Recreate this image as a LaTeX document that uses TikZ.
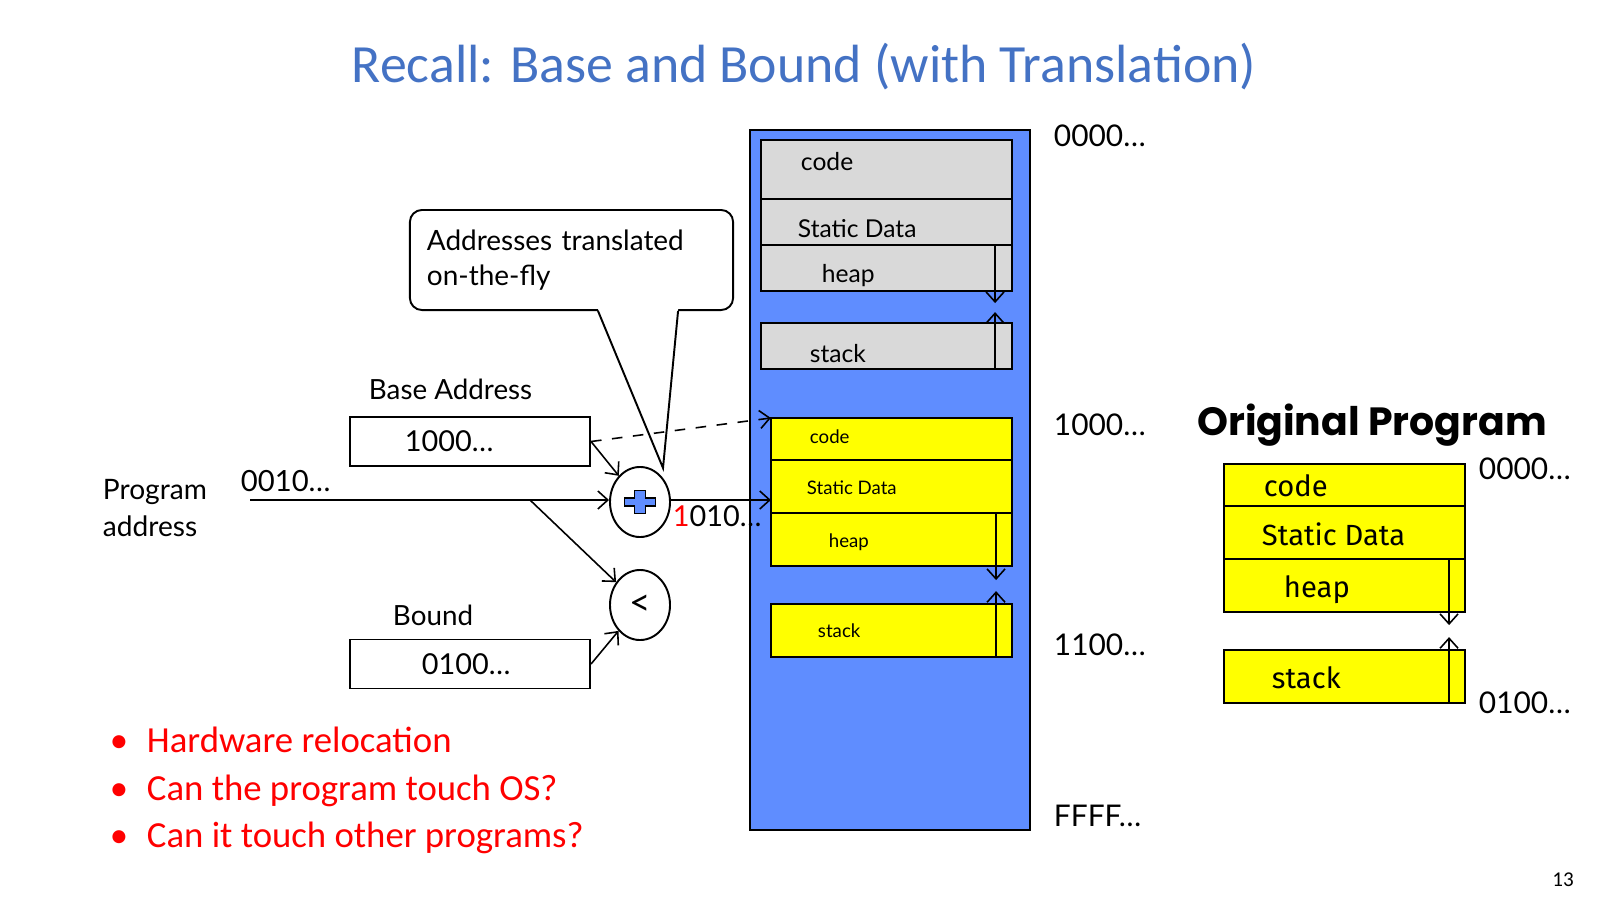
\documentclass[tikz,border=0pt]{standalone}
\usepackage{fontspec}
\usepackage{xcolor}
\usepackage{tikz}
\usetikzlibrary{positioning,arrows.meta,shapes.geometric}
\setmainfont{Carlito}
\newfontfamily\gillfont{Lato}
\newfontfamily\comicfont{Fira Sans}
\newfontfamily\heavyfont{Poppins}
\definecolor{slideblue}{HTML}{4472C4}
\definecolor{memblue}{HTML}{5F8DFF}
\definecolor{seggray}{HTML}{D9D9D9}
\definecolor{segyellow}{HTML}{FFFF00}

\begin{document}
\begin{tikzpicture}[
  x=0.01cm, y=-0.01cm,
  >={Straight Barb[length=1mm,width=1.8mm]},
  line width=0.55pt,
  memcol/.style={draw, fill=memblue, minimum width=2.8cm, minimum height=7cm, inner sep=0pt},
  segG/.style={draw, fill=seggray, minimum width=2.51cm, inner sep=0pt, outer sep=0pt},
  segY/.style={draw, fill=segyellow, minimum width=2.41cm, inner sep=0pt, outer sep=0pt},
  glbl/.style={anchor=base west, inner sep=0pt, font=\gillfont\fontsize{7}{8}\selectfont},
  ylbl/.style={anchor=base west, inner sep=0pt, font=\gillfont\fontsize{5.3}{6.5}\selectfont},
  olbl/.style={anchor=base west, inner sep=0pt, font=\comicfont\fontsize{8.3}{9.5}\selectfont},
  addr/.style={anchor=west, inner sep=0pt, font=\gillfont\fontsize{8.5}{10}\selectfont},
  lbl/.style={anchor=base west, inner sep=0pt, font=\gillfont\fontsize{7.9}{10}\selectfont},
  regbox/.style={draw, minimum height=0.49cm, inner ysep=0pt, align=left, font=\gillfont\fontsize{8.2}{10}\selectfont},
  unit/.style={draw, ellipse, minimum width=0.6cm, minimum height=0.7cm, inner sep=0pt, font=\gillfont\fontsize{10.5}{12}\selectfont},
  growth/.style={->, line width=0.45pt},
  wire/.style={->, line width=0.45pt},
  bulletline/.style={anchor=base west, inner sep=0pt, text=red, font=\fontsize{10.45}{12}\selectfont}
]
\useasboundingbox (0,0) rectangle (1600,900);

\node[anchor=base, text=slideblue, font=\fontsize{15.3}{17}\selectfont] (title) at (804,82) {Recall: Base and Bound (with Translation)};

\node[memcol] (mem) at (890,480) {};
\node[segG, minimum height=0.59cm] (gcode) at (886.5,169.5) {};
\node[segG, minimum height=0.46cm, below=0pt of gcode] (gdata) {};
\node[segG, minimum height=0.46cm, below=0pt of gdata] (gheap) {};
\node[segG, minimum height=0.46cm, below=0.32cm of gheap] (gstack) {};
\node[glbl] (gcodetxt) at (800,170) {code};
\node[glbl] (gdatatxt) at (797,237) {Static Data};
\node[glbl] (gheaptxt) at (821,282) {heap};
\node[glbl] (gstacktxt) at (809,362) {stack};
\draw[growth] ([xshift=-0.17cm]gheap.north east) -- ([xshift=-0.17cm,yshift=-0.12cm]gheap.south east);
\draw[growth] ([xshift=-0.17cm]gstack.south east) -- ([xshift=-0.17cm,yshift=0.11cm]gstack.north east);

\node[segY, minimum height=0.42cm] (ycode) at (891.5,439) {};
\node[segY, minimum height=0.53cm, below=0pt of ycode] (ydata) {};
\node[segY, minimum height=0.53cm, below=0pt of ydata] (yheap) {};
\node[segY, minimum height=0.53cm, below=0.38cm of yheap] (ystack) {};
\node[ylbl] (ycodetxt) at (809,443) {code};
\node[ylbl] (ydatatxt) at (806,494) {Static Data};
\node[ylbl] (yheaptxt) at (828,547) {heap};
\node[ylbl] (ystacktxt) at (817,637) {stack};
\draw[growth] ([xshift=-0.16cm]yheap.north east) -- ([xshift=-0.16cm,yshift=-0.14cm]yheap.south east);
\draw[growth] ([xshift=-0.16cm]ystack.south east) -- ([xshift=-0.16cm,yshift=0.13cm]ystack.north east);

\node[addr] (a0) at (1053,136) {0000\ldots};
\node[addr] (a1) at (1053,425) {1000\ldots};
\node[addr] (a2) at (1053,645) {1100\ldots};
\node[addr] (a3) at (1053,816) {FFFF\ldots};

\node[anchor=base, inner sep=0pt, font=\heavyfont\bfseries\fontsize{11.2}{13}\selectfont] (origtitle) at (1372,435) {Original Program};
\node[segY, minimum height=0.42cm] (ocode) at (1344.5,485) {};
\node[segY, minimum height=0.53cm, below=0pt of ocode] (odata) {};
\node[segY, minimum height=0.53cm, below=0pt of odata] (oheap) {};
\node[segY, minimum height=0.53cm, below=0.38cm of oheap] (ostack) {};
\node[olbl] (ocodetxt) at (1263,496) {code};
\node[olbl] (odatatxt) at (1261,545) {Static Data};
\node[olbl] (oheaptxt) at (1283,597) {heap};
\node[olbl] (ostacktxt) at (1271,688) {stack};
\draw[growth] ([xshift=-0.16cm]oheap.north east) -- ([xshift=-0.16cm,yshift=-0.13cm]oheap.south east);
\draw[growth] ([xshift=-0.16cm]ostack.south east) -- ([xshift=-0.16cm,yshift=0.13cm]ostack.north east);
\node[addr] (o0) at (1478,469) {0000\ldots};
\node[addr] (o1) at (1478,703) {0100\ldots};

\node[draw, fill=white, rounded corners=0.12cm, minimum width=3.23cm, minimum height=1cm, inner sep=0.17cm, text width=2.89cm, align=left, font=\gillfont\fontsize{7.95}{10}\selectfont] (note) at (571.5,260) {Addresses translated\\on-the-fly};
\coordinate (tip) at (663,468);
\path[fill=white] ([xshift=0.265cm,yshift=0.02cm]note.south) -- (tip) -- ([xshift=1.065cm,yshift=0.02cm]note.south) -- cycle;
\draw ([xshift=0.265cm]note.south) -- (tip) -- ([xshift=1.065cm]note.south);

\node[regbox, inner xsep=0.55cm, text width=1.3cm] (base) at (470,441.5) {1000\ldots};
\node[regbox, inner xsep=0.72cm, text width=0.96cm] (bound) at (470,664) {0100\ldots};
\node[lbl] (basetxt) at (368,399) {Base Address};
\node[lbl] (boundtxt) at (392,625) {Bound};
\node[anchor=west, inner sep=0pt, align=left, font=\gillfont\fontsize{8}{10.5}\selectfont] (progtxt) at (102,508) {Program\\address};
\node[lbl, font=\gillfont\fontsize{8.3}{10}\selectfont] (vaddr) at (240,491) {0010\ldots};

\node[unit] (adder) at (640,502) {};
\draw[fill=memblue, line width=0.5pt, shift={(adder.center)}] (-5.5,-11.5) -- (5.5,-11.5) -- (5.5,-4) -- (15.5,-4) -- (15.5,4) -- (5.5,4) -- (5.5,11.5) -- (-5.5,11.5) -- (-5.5,4) -- (-15.5,4) -- (-15.5,-4) -- (-5.5,-4) -- cycle;
\node[unit] (cmp) at (640,605) {<};
\node[lbl, font=\gillfont\fontsize{8.2}{10}\selectfont] (paddr) at (672,526) {{\color{red}1}010\ldots};

\coordinate (pstart) at (250,500);
\coordinate (split) at (530,500);
\draw[wire] (pstart) -- (pstart -| adder.west);
\draw[wire] (split) -- (cmp);
\draw[wire] (base.east) -- (adder);
\draw[wire] (bound.east) -- (cmp);
\draw[wire] (adder.east |- pstart) -- (pstart -| ydata.west);
\draw[wire, dashed] (base.east) -- (ycode.north west);

\node[bulletline] (b1) at (109,752) {\makebox[0.37cm][l]{\textbullet}Hardware relocation};
\node[bulletline] (b2) at (109,800) {\makebox[0.37cm][l]{\textbullet}Can the program touch OS?};
\node[bulletline] (b3) at (109,847) {\makebox[0.37cm][l]{\textbullet}Can it touch other programs?};

\node[font=\fontsize{6}{7}\selectfont] (pageno) at (1563,880) {13};
\end{tikzpicture}
\end{document}
